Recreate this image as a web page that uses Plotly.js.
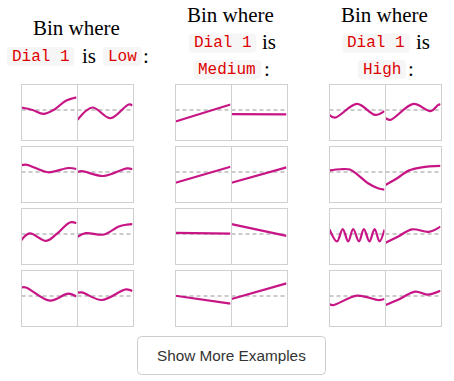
<!DOCTYPE html>
<html><head><meta charset="utf-8">
<script src="https://cdn.plot.ly/plotly-3.0.1.min.js"></script>
<style>html,body{margin:0;padding:0;background:#fff;}#chart{width:454px;height:381px;}</style>
</head><body><div id="chart"></div>
<script>
// ---- text ----
const bins = ["Low", "Medium", "High"];
const dialName = "Dial 1";
const titleWords = ["Bin where", "is", ":"];
const buttonLabel = "Show More Examples";

// ---- data: each panel = positions along x (0..1) and values (dashed line = 0) ----
// Low bin
const low_r1_left_t  = [0, 0.2, 0.4, 0.6, 0.8, 1];
const low_r1_left_v  = [0.09, 0.0, -0.14, 0.02, 0.33, 0.46];
const low_r1_right_t = [0, 0.27, 0.6, 0.93, 1];
const low_r1_right_v = [-0.36, 0.09, -0.3, 0.2, 0.16];
const low_r2_left_t  = [0, 0.1, 0.48, 0.85, 1];
const low_r2_left_v  = [0.25, 0.26, -0.01, 0.145, 0.11];
const low_r2_right_t = [0, 0.08, 0.47, 0.9, 1];
const low_r2_right_v = [0.0, 0.03, -0.145, 0.13, 0.1];
const low_r3_left_t  = [0, 0.15, 0.45, 0.64, 0.88, 1];
const low_r3_left_v  = [-0.22, 0.02, -0.25, 0.0, 0.42, 0.39];
const low_r3_right_t = [0, 0.15, 0.48, 0.75, 0.9, 1];
const low_r3_right_v = [-0.1, 0.03, -0.02, 0.27, 0.34, 0.36];
const low_r4_left_t  = [0, 0.08, 0.52, 0.85, 1];
const low_r4_left_v  = [0.31, 0.31, -0.17, 0.085, -0.02];
const low_r4_right_t = [0, 0.08, 0.44, 0.88, 1];
const low_r4_right_v = [0.12, 0.13, -0.145, 0.24, 0.18];
// Medium bin
const med_r1_left_t  = [0, 1];
const med_r1_left_v  = [-0.42, 0.2];
const med_r1_right_t = [0, 1];
const med_r1_right_v = [-0.15, -0.16];
const med_r2_left_t  = [0, 1];
const med_r2_left_v  = [-0.39, 0.19];
const med_r2_right_t = [0, 1];
const med_r2_right_v = [-0.39, 0.17];
const med_r3_left_t  = [0, 1];
const med_r3_left_v  = [0.04, 0.01];
const med_r3_right_t = [0, 1];
const med_r3_right_v = [0.36, -0.07];
const med_r4_left_t  = [0, 1];
const med_r4_left_v  = [0.01, -0.28];
const med_r4_right_t = [0, 1];
const med_r4_right_v = [-0.11, 0.46];
// High bin
const high_r1_left_t  = [0, 0.1, 0.5, 0.83, 1];
const high_r1_left_v  = [-0.18, -0.28, 0.22, -0.18, -0.04];
const high_r1_right_t = [0, 0.085, 0.51, 0.82, 0.97, 1];
const high_r1_right_v = [-0.3, -0.36, 0.22, -0.04, 0.2, 0.18];
const high_r2_left_t  = [0, 0.2, 0.37, 0.52, 0.7, 0.88, 1];
const high_r2_left_v  = [0.06, 0.1, 0.09, -0.11, -0.41, -0.59, -0.64];
const high_r2_right_t = [0, 0.24, 0.42, 0.66, 1];
const high_r2_right_v = [-0.47, -0.19, 0.05, 0.17, 0.22];
const high_r3_left_t  = [0, 0.137, 0.24, 0.34, 0.43, 0.536, 0.625, 0.726, 0.82, 0.91, 1];
const high_r3_left_v  = [0.17, -0.27, 0.18, -0.27, 0.18, -0.27, 0.18, -0.27, 0.18, -0.27, 0.16];
const high_r3_right_t = [0, 0.24, 0.48, 0.79, 1];
const high_r3_right_v = [-0.32, -0.08, 0.17, 0.08, 0.27];
const high_r4_left_t  = [0, 0.07, 0.5, 0.9, 1];
const high_r4_left_v  = [-0.3, -0.33, 0.01, -0.15, -0.11];
const high_r4_right_t = [0, 0.23, 0.54, 0.76, 1];
const high_r4_right_v = [-0.33, -0.14, 0.16, 0.05, 0.19];

const panels = [
  [[low_r1_left_t, low_r1_left_v], [low_r1_right_t, low_r1_right_v],
   [low_r2_left_t, low_r2_left_v], [low_r2_right_t, low_r2_right_v],
   [low_r3_left_t, low_r3_left_v], [low_r3_right_t, low_r3_right_v],
   [low_r4_left_t, low_r4_left_v], [low_r4_right_t, low_r4_right_v]],
  [[med_r1_left_t, med_r1_left_v], [med_r1_right_t, med_r1_right_v],
   [med_r2_left_t, med_r2_left_v], [med_r2_right_t, med_r2_right_v],
   [med_r3_left_t, med_r3_left_v], [med_r3_right_t, med_r3_right_v],
   [med_r4_left_t, med_r4_left_v], [med_r4_right_t, med_r4_right_v]],
  [[high_r1_left_t, high_r1_left_v], [high_r1_right_t, high_r1_right_v],
   [high_r2_left_t, high_r2_left_v], [high_r2_right_t, high_r2_right_v],
   [high_r3_left_t, high_r3_left_v], [high_r3_right_t, high_r3_right_v],
   [high_r4_left_t, high_r4_left_v], [high_r4_right_t, high_r4_right_v]]
];

// ---- layout geometry (pixels) ----
const W = 454, H = 381;
const groupLeft = [21.5, 175.5, 329.5];
const rowTop = [84.5, 146.5, 208.5, 270.5];
const PW = 55, PH = 55;
const X = p => p / W, Y = p => 1 - p / H;

const traces = [], shapes = [], annotations = [];
const layout = {
  width: W, height: H, margin: {l: 0, r: 0, t: 0, b: 0},
  paper_bgcolor: '#fff', plot_bgcolor: '#fff', showlegend: false,
  hovermode: false
};

let k = 0;
for (let g = 0; g < 3; g++) {
  for (let r = 0; r < 4; r++) {
    for (let c = 0; c < 2; c++) {
      k++;
      const xa = 'xaxis' + (k === 1 ? '' : k), ya = 'yaxis' + (k === 1 ? '' : k);
      const xr = 'x' + (k === 1 ? '' : k), yr = 'y' + (k === 1 ? '' : k);
      const L = groupLeft[g] + c * (PW + 1), T = rowTop[r];
      const common = {showgrid: false, zeroline: false, showticklabels: false, ticks: '',
        showline: true, mirror: true, linecolor: '#d0d0d0', linewidth: 1, fixedrange: true};
      layout[xa] = Object.assign({}, common, {domain: [X(L), X(L + PW)], range: [0, 1], anchor: yr});
      layout[ya] = Object.assign({}, common, {domain: [Y(T + PH), Y(T)], range: [-1.073, 0.927], anchor: xr});
      shapes.push({type: 'line', xref: xr + ' domain', yref: yr, x0: 0, x1: 1, y0: 0, y1: 0,
        line: {color: '#cbcbcb', width: 2, dash: '4px,3px'}, layer: 'below'});
      const d = panels[g][r * 2 + c];
      traces.push({type: 'scatter', mode: 'lines', x: d[0], y: d[1], xaxis: xr, yaxis: yr,
        line: {color: '#c71585', width: 2.2, shape: d[0].length > 2 ? 'spline' : 'linear', smoothing: 1},
        hoverinfo: 'skip'});
    }
  }
}

function rr(x0, y0, x1, y1, r) {
  return `M${X(x0 + r)},${Y(y0)} L${X(x1 - r)},${Y(y0)} Q${X(x1)},${Y(y0)} ${X(x1)},${Y(y0 + r)} ` +
    `L${X(x1)},${Y(y1 - r)} Q${X(x1)},${Y(y1)} ${X(x1 - r)},${Y(y1)} L${X(x0 + r)},${Y(y1)} ` +
    `Q${X(x0)},${Y(y1)} ${X(x0)},${Y(y1 - r)} L${X(x0)},${Y(y0 + r)} Q${X(x0)},${Y(y0)} ${X(x0 + r)},${Y(y0)} Z`;
}

const serif = {family: 'Liberation Serif, Times New Roman, serif', size: 21, color: '#000'};
const mono = {family: 'Liberation Mono, Courier New, monospace', size: 16, color: '#dd0000'};
function word(text, cx, cy) {
  annotations.push({xref: 'paper', yref: 'paper', x: X(cx), y: Y(cy), text: text, showarrow: false,
    xanchor: 'center', yanchor: 'middle', font: serif});
}
function code(text, cx, cy) {
  const w = text.length * 9.6 + 10, h = 19;
  shapes.push({type: 'path', xref: 'paper', yref: 'paper', path: rr(cx - w / 2, cy - h / 2, cx + w / 2, cy + h / 2, 4),
    fillcolor: '#f6f6f6', line: {width: 0}, layer: 'below'});
  annotations.push({xref: 'paper', yref: 'paper', x: X(cx), y: Y(cy), text: text, showarrow: false,
    xanchor: 'center', yanchor: 'middle', font: mono});
}

// Low title (two lines)
word(titleWords[0], 76.5, 28);
code(dialName, 40.5, 56.5); word(titleWords[1], 88.5, 56); code(bins[0], 122.5, 56.5); word(titleWords[2], 145.5, 56);
// Medium title (three lines)
word(titleWords[0], 230.7, 15);
code(dialName, 222.5, 43); word(titleWords[1], 269, 42.5);
code(bins[1], 227.5, 69.5); word(titleWords[2], 266.5, 69);
// High title
word(titleWords[0], 384.7, 15);
code(dialName, 376, 43); word(titleWords[1], 423, 42.5);
code(bins[2], 382, 69.5); word(titleWords[2], 410.5, 69);

// Button
shapes.push({type: 'path', xref: 'paper', yref: 'paper', path: rr(137.5, 336.5, 325.5, 374.5, 4),
  fillcolor: '#fff', line: {color: '#cccccc', width: 1}});
annotations.push({xref: 'paper', yref: 'paper', x: X(231.5), y: Y(355.5), text: buttonLabel, showarrow: false,
  xanchor: 'center', yanchor: 'middle', font: {family: 'Liberation Sans, Arial, sans-serif', size: 15.3, color: '#333'}});

layout.shapes = shapes;
layout.annotations = annotations;
Plotly.newPlot('chart', traces, layout, {staticPlot: true, displayModeBar: false});
</script>
</body></html>
